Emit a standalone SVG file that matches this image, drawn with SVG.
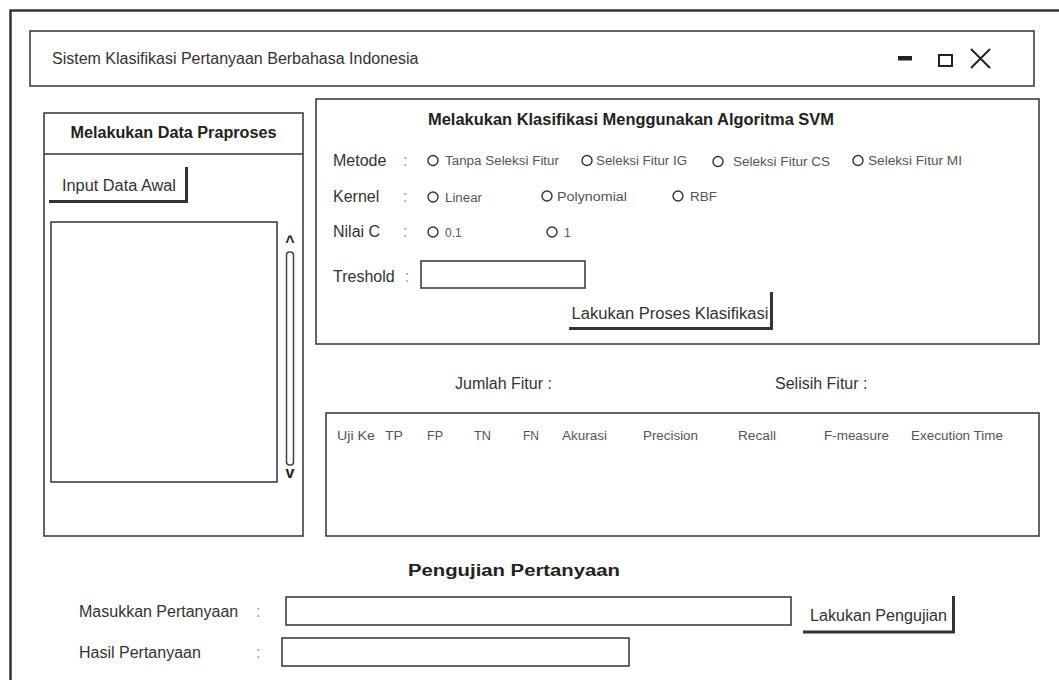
<svg xmlns="http://www.w3.org/2000/svg" width="1059" height="680" viewBox="0 0 1059 680">
<style>
  .box { fill: #fff; stroke: #333; stroke-width: 1.5; }
  .lbl { font-family: "Liberation Sans", Arial, sans-serif; font-size: 16px; fill: #333; }
  .ttl { font-family: "Liberation Sans", Arial, sans-serif; font-size: 16px; font-weight: bold; fill: #222; }
  .col { font-family: "Liberation Sans", Arial, sans-serif; font-size: 16px; fill: #999; }
  .sm { font-family: "Liberation Sans", Arial, sans-serif; font-size: 12px; fill: #555; }
  .radio { fill: #fff; stroke: #333; stroke-width: 1.4; }
  .shadow { fill: none; stroke: #333; stroke-width: 3; }
</style>
<rect width="1059" height="680" fill="#fff"/>
<g id="window-frame">
  <rect x="10.5" y="10.5" width="1100" height="720" fill="none" stroke="#333" stroke-width="2.5"/>
</g>
<g id="title-bar">
  <rect class="box" x="30" y="31" width="1004" height="55"/>
  <text class="lbl" x="52" y="64">Sistem Klasifikasi Pertanyaan Berbahasa Indonesia</text>
  <rect x="898" y="56" width="14" height="4.5" fill="#222"/>
  <rect x="939" y="55" width="13" height="11" fill="none" stroke="#222" stroke-width="2"/>
  <path d="M971 49 L990 68 M990 49 L971 68" stroke="#222" stroke-width="2" fill="none"/>
</g>
<g id="panel-praproses">
  <rect class="box" x="44" y="113" width="259" height="423"/>
  <line x1="44" y1="154" x2="303" y2="154" stroke="#333" stroke-width="1.5"/>
  <text class="ttl" x="173.5" y="138" text-anchor="middle" textLength="206" lengthAdjust="spacingAndGlyphs">Melakukan Data Praproses</text>
  <g id="btn-input-data">
    <rect x="49" y="167" width="138" height="34" fill="#fff"/>
    <polyline class="shadow" points="186.5,167 186.5,201.5 49,201.5"/>
    <text class="lbl" x="62" y="190.5" textLength="114" lengthAdjust="spacingAndGlyphs">Input Data Awal</text>
  </g>
  <rect class="box" x="51" y="222" width="226" height="260"/>
  <text class="ttl" x="290" y="247" text-anchor="middle" font-size="14">^</text>
  <rect x="286.5" y="252" width="7" height="213" rx="3" fill="#fff" stroke="#444" stroke-width="1.5"/>
  <text class="ttl" x="290" y="478" text-anchor="middle" font-size="12">v</text>
</g>
<g id="panel-klasifikasi">
  <rect class="box" x="316" y="99" width="723" height="245"/>
  <text class="ttl" x="631" y="125" text-anchor="middle" textLength="406" lengthAdjust="spacingAndGlyphs">Melakukan Klasifikasi Menggunakan Algoritma SVM</text>
  <g id="row-metode">
    <text class="lbl" x="333" y="166">Metode</text>
    <text class="col" x="403" y="166">:</text>
    <circle class="radio" cx="433" cy="160.5" r="5"/>
    <text class="sm" x="445" y="165" textLength="114" lengthAdjust="spacingAndGlyphs">Tanpa Seleksi Fitur</text>
    <circle class="radio" cx="587" cy="160.5" r="5"/>
    <text class="sm" x="596" y="165" textLength="91" lengthAdjust="spacingAndGlyphs">Seleksi Fitur IG</text>
    <circle class="radio" cx="718" cy="161.5" r="5"/>
    <text class="sm" x="733" y="166" textLength="97" lengthAdjust="spacingAndGlyphs">Seleksi Fitur CS</text>
    <circle class="radio" cx="858" cy="160.5" r="5"/>
    <text class="sm" x="868" y="165" textLength="94" lengthAdjust="spacingAndGlyphs">Seleksi Fitur MI</text>
  </g>
  <g id="row-kernel">
    <text class="lbl" x="333" y="202">Kernel</text>
    <text class="col" x="403" y="202">:</text>
    <circle class="radio" cx="433" cy="197" r="5"/>
    <text class="sm" x="445" y="201.5" textLength="37" lengthAdjust="spacingAndGlyphs">Linear</text>
    <circle class="radio" cx="547" cy="196" r="5"/>
    <text class="sm" x="557" y="200.5" textLength="70" lengthAdjust="spacingAndGlyphs">Polynomial</text>
    <circle class="radio" cx="678" cy="196" r="5"/>
    <text class="sm" x="690" y="200.5" textLength="27" lengthAdjust="spacingAndGlyphs">RBF</text>
  </g>
  <g id="row-nilai-c">
    <text class="lbl" x="333" y="237">Nilai C</text>
    <text class="col" x="403" y="237">:</text>
    <circle class="radio" cx="433" cy="232" r="5"/>
    <text class="sm" x="445" y="236.5">0.1</text>
    <circle class="radio" cx="552" cy="232" r="5"/>
    <text class="sm" x="564" y="236.5">1</text>
  </g>
  <g id="row-treshold">
    <text class="lbl" x="333" y="281.5">Treshold</text>
    <text class="col" x="405" y="281.5">:</text>
    <rect class="box" x="421" y="261" width="164" height="27"/>
  </g>
  <g id="btn-klasifikasi">
    <rect x="569" y="292" width="202" height="36" fill="#fff"/>
    <polyline class="shadow" points="771.5,292 771.5,328.5 569,328.5"/>
    <text class="lbl" x="670" y="318.5" text-anchor="middle" textLength="197" lengthAdjust="spacingAndGlyphs">Lakukan Proses Klasifikasi</text>
  </g>
</g>
<g id="fitur-info">
  <text class="lbl" x="455" y="389">Jumlah Fitur :</text>
  <text class="lbl" x="775" y="389">Selisih Fitur :</text>
</g>
<g id="tabel-hasil">
  <rect class="box" x="326" y="413" width="713" height="123"/>
  <text class="sm" x="337" y="439.5" textLength="38" lengthAdjust="spacingAndGlyphs">Uji Ke</text>
  <text class="sm" x="385" y="439.5" textLength="18" lengthAdjust="spacingAndGlyphs">TP</text>
  <text class="sm" x="427" y="439.5" textLength="16" lengthAdjust="spacingAndGlyphs">FP</text>
  <text class="sm" x="474" y="439.5" textLength="17" lengthAdjust="spacingAndGlyphs">TN</text>
  <text class="sm" x="523" y="439.5" textLength="16" lengthAdjust="spacingAndGlyphs">FN</text>
  <text class="sm" x="562" y="439.5" textLength="45" lengthAdjust="spacingAndGlyphs">Akurasi</text>
  <text class="sm" x="643" y="439.5" textLength="55" lengthAdjust="spacingAndGlyphs">Precision</text>
  <text class="sm" x="738" y="439.5" textLength="38" lengthAdjust="spacingAndGlyphs">Recall</text>
  <text class="sm" x="824" y="439.5" textLength="65" lengthAdjust="spacingAndGlyphs">F-measure</text>
  <text class="sm" x="911" y="439.5" textLength="92" lengthAdjust="spacingAndGlyphs">Execution Time</text>
</g>
<g id="panel-pengujian">
  <text class="ttl" x="514" y="576" text-anchor="middle" textLength="212" lengthAdjust="spacingAndGlyphs">Pengujian Pertanyaan</text>
  <text class="lbl" x="79" y="617">Masukkan Pertanyaan</text>
  <text class="col" x="256" y="617">:</text>
  <rect class="box" x="286" y="597" width="505" height="28"/>
  <g id="btn-pengujian">
    <rect x="803" y="596" width="150" height="36" fill="#fff"/>
    <polyline class="shadow" points="953.5,596 953.5,632 803,632"/>
    <text class="lbl" x="810" y="620.5" textLength="137" lengthAdjust="spacingAndGlyphs">Lakukan Pengujian</text>
  </g>
  <text class="lbl" x="79" y="658">Hasil Pertanyaan</text>
  <text class="col" x="256" y="658">:</text>
  <rect class="box" x="282" y="638" width="347" height="28"/>
</g>
</svg>
